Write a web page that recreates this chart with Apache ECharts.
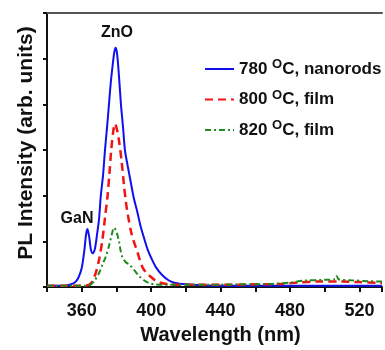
<!DOCTYPE html>
<html>
<head>
<meta charset="utf-8">
<script src="https://cdn.jsdelivr.net/npm/echarts@6/dist/echarts.min.js"></script>
<style>
  html, body { margin: 0; padding: 0; background: #fff; }
  #chart { width: 385px; height: 350px; }
</style>
</head>
<body>
<div id="chart"></div>
<script>
// wavelength (nm) and PL intensity
const nanorodX = [340, 350, 353, 356, 358, 360, 361.5, 362.5, 363.3, 364.3, 365.3, 366.3, 367.5, 369, 370, 371, 372.3, 373.4, 374.6, 375.7, 376.8, 377.8, 378.8, 379.6, 380.4, 381.5, 382.6, 383.8, 384.9, 386.5, 388, 390, 392, 393.8, 395.7, 398, 400.5, 403, 406.2, 410, 413.9, 420, 429, 440, 460, 480, 500, 520, 533];
const nanorodY = [0.03, 0.03, 0.05, 0.1, 0.2, 0.42, 0.8, 1.15, 1.27, 1.1, 0.82, 0.74, 0.82, 1.2, 1.5, 2.0, 2.45, 3.0, 3.5, 4.0, 4.5, 4.85, 5.15, 5.24, 5.1, 4.6, 4.0, 3.5, 3.0, 2.65, 2.35, 1.95, 1.65, 1.35, 1.1, 0.82, 0.6, 0.42, 0.27, 0.15, 0.09, 0.06, 0.04, 0.03, 0.03, 0.03, 0.03, 0.03, 0.03];

const film800X = [340, 360, 364, 366, 368, 370, 371.9, 373.5, 374.8, 376, 377, 378.2, 379.2, 380.3, 381.5, 383, 384.3, 385.5, 386.5, 388.5, 390, 392, 394.8, 397, 400.5, 403, 406, 410, 420, 440, 460, 475, 485, 495, 510, 520, 533];
const film800Y = [0.03, 0.03, 0.05, 0.12, 0.3, 0.6, 1.03, 1.55, 1.96, 2.5, 3.0, 3.42, 3.58, 3.45, 3.2, 2.75, 2.25, 1.85, 1.6, 1.2, 1.0, 0.78, 0.45, 0.32, 0.2, 0.13, 0.09, 0.06, 0.05, 0.05, 0.06, 0.07, 0.1, 0.12, 0.12, 0.11, 0.09];

const film820X = [340, 362, 365, 367.5, 370, 372, 374, 375.7, 377.3, 378.6, 379.6, 380.5, 381.5, 382.4, 383.5, 385.3, 387, 388.5, 390.5, 392.9, 395.5, 398.6, 402, 410, 430, 450, 470, 480, 488, 500, 506, 507, 508, 515, 525, 533];
const film820Y = [0.03, 0.03, 0.05, 0.15, 0.31, 0.5, 0.68, 0.9, 1.15, 1.3, 1.25, 1.15, 1.0, 0.8, 0.65, 0.55, 0.5, 0.45, 0.36, 0.25, 0.16, 0.09, 0.06, 0.05, 0.05, 0.06, 0.07, 0.1, 0.14, 0.16, 0.17, 0.24, 0.17, 0.15, 0.13, 0.12];

const seriesNames = ['780 °C, nanorods', '800 °C, film', '820 °C, film'];
const legendParts = [['780 ', 'C, nanorods'], ['800 ', 'C, film'], ['820 ', 'C, film']];

const pairs = (xs, ys) => xs.map((x, i) => [x, ys[i]]);

const chart = echarts.init(document.getElementById('chart'));
const font = 'Liberation Sans, Arial, sans-serif';

chart.setOption({
  animation: false,
  grid: { left: 47, right: 0, top: 13, bottom: 59 },
  legend: {
    orient: 'vertical',
    left: 204,
    top: 58,
    padding: 0,
    itemWidth: 29,
    itemHeight: 14,
    itemGap: 11,
    data: seriesNames,
    itemStyle: { opacity: 0 },
    formatter: (name) => {
      const p = legendParts[seriesNames.indexOf(name)];
      return '{n|' + p[0] + '}{s|O}{n|' + p[1] + '}';
    },
    textStyle: {
      rich: {
        n: { fontFamily: font, fontWeight: 'bold', fontSize: 17, color: '#111', lineHeight: 22 },
        s: { fontFamily: font, fontWeight: 'bold', fontSize: 13, color: '#111', lineHeight: 11, verticalAlign: 'top' }
      }
    }
  },
  xAxis: [{
    type: 'value',
    min: 340,
    max: 533,
    interval: 20,
    name: 'Wavelength (nm)',
    nameLocation: 'middle',
    nameGap: 34,
    nameTextStyle: { fontFamily: font, fontWeight: 'bold', fontSize: 20, color: '#111', padding: [0, 0, 0, 12] },
    axisLine: { lineStyle: { color: '#111', width: 2 } },
    axisTick: { length: 5, lineStyle: { color: '#111', width: 2 } },
    axisLabel: {
      margin: 15,
      fontFamily: font, fontWeight: 'bold', fontSize: 18, color: '#111',
      formatter: (v) => (v % 40 === 0 ? String(v) : '')
    },
    splitLine: { show: false }
  }, {
    type: 'value',
    position: 'top',
    min: 340,
    max: 533,
    axisLine: { show: true, lineStyle: { color: '#555', width: 2 } },
    axisTick: { show: false },
    axisLabel: { show: false },
    splitLine: { show: false }
  }],
  yAxis: {
    type: 'value',
    min: 0,
    max: 6,
    interval: 1,
    axisLine: { show: true, lineStyle: { color: '#111', width: 2 } },
    axisTick: { show: true, length: 4, lineStyle: { color: '#111', width: 2 } },
    axisLabel: { show: false },
    splitLine: { show: false }
  },
  graphic: [
    {
      type: 'text', x: 26, y: 143, rotation: Math.PI / 2,
      style: { text: 'PL Intensity (arb. units)', fontFamily: font, fontWeight: 'bold', fontSize: 21, fill: '#111', align: 'center', verticalAlign: 'middle' }
    },
    {
      type: 'text', x: 117, y: 33,
      style: { text: 'ZnO', fontFamily: font, fontWeight: 'bold', fontSize: 16, fill: '#111', align: 'center', verticalAlign: 'middle' }
    },
    {
      type: 'text', x: 77, y: 219,
      style: { text: 'GaN', fontFamily: font, fontWeight: 'bold', fontSize: 16, fill: '#111', align: 'center', verticalAlign: 'middle' }
    }
  ],
  series: [
    {
      name: seriesNames[0], type: 'line', symbol: 'none', smooth: 0.3,
      data: pairs(nanorodX, nanorodY),
      itemStyle: { color: '#1010ee' },
      lineStyle: { color: '#1010ee', width: 2 }
    },
    {
      name: seriesNames[1], type: 'line', symbol: 'none', smooth: 0.3,
      data: pairs(film800X, film800Y),
      itemStyle: { color: '#f01414' },
      lineStyle: { color: '#f01414', width: 2.5, type: [8, 5] }
    },
    {
      name: seriesNames[2], type: 'line', symbol: 'none', smooth: 0.3,
      data: pairs(film820X, film820Y),
      itemStyle: { color: '#1f8a1f' },
      lineStyle: { color: '#1f8a1f', width: 2, type: [6, 3, 2, 3] }
    }
  ]
});
</script>
</body>
</html>
